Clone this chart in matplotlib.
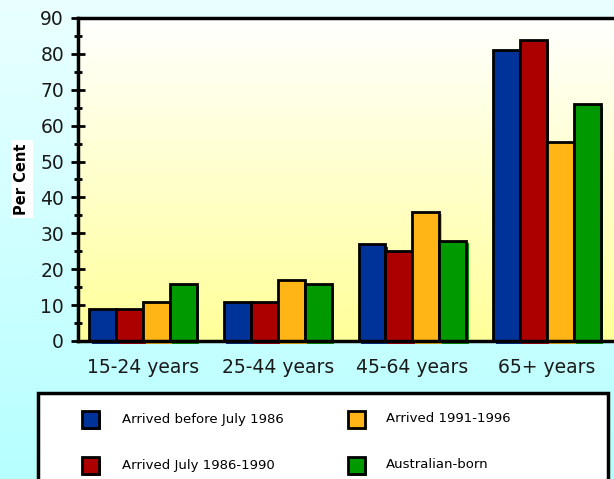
import numpy as np
import matplotlib
matplotlib.use("Agg")
import matplotlib.pyplot as plt
from matplotlib.patches import Rectangle

# data
age_groups = ["15-24 years", "25-44 years", "45-64 years", "65+ years"]
series_names = ["Arrived before July 1986", "Arrived July 1986-1990",
                "Arrived 1991-1996", "Australian-born"]
before_1986 = [9, 11, 27, 81]
from_1986_1990 = [9, 11, 25, 84]
from_1991_1996 = [11, 17, 36, 55.5]
australian_born = [16, 16, 28, 66]
values = [before_1986, from_1986_1990, from_1991_1996, australian_born]
colors = ["#003399", "#aa0000", "#ffb515", "#009900"]

W, H = 614, 479
fig = plt.figure(figsize=(W / 100, H / 100), dpi=100)


def fx(x):  # pixel -> figure fraction
    return x / W


def fy(y):
    return 1 - y / H


# light cyan page background
bg = fig.add_axes([0, 0, 1, 1], zorder=-10)
grad = np.linspace(0, 1, 256).reshape(-1, 1)
bg.imshow(grad, aspect="auto", cmap=matplotlib.colors.LinearSegmentedColormap.from_list(
    "bg", ["#eaffff", "#b6ffff"]), extent=[0, 1, 0, 1], origin="upper")
bg.axis("off")

ax = fig.add_axes([fx(78), fy(341), fx(614 - 78) + 0.002, (341 - 18) / H])
ax.set_facecolor("none")
ax.set_xlim(-0.484, 3.507)
ax.set_ylim(0, 90)
# white -> yellow plot area
ax.imshow(grad, aspect="auto", cmap=matplotlib.colors.LinearSegmentedColormap.from_list(
    "pa", ["#ffffff", "#ffff99"]), extent=[-0.484, 3.507, 0, 90], origin="upper", zorder=0)

x = np.arange(len(age_groups))
w = 0.2
for i, (vals, c) in enumerate(zip(values, colors)):
    pos = x + (i - 1.5) * w
    # small drop shadow
    ax.bar(pos + 0.018, vals, w, bottom=-0.7, color=c, linewidth=0, zorder=2, clip_on=False)
    ax.bar(pos, vals, w, color=c, edgecolor="black", linewidth=2, zorder=3)

for side in ["left", "top", "bottom"]:
    ax.spines[side].set_linewidth(2.5)
ax.spines["right"].set_visible(False)
ax.spines["left"].set_zorder(5)
ax.spines["bottom"].set_zorder(5)

ax.set_yticks(np.arange(0, 91, 10))
ax.set_yticks(np.arange(5, 90, 10), minor=True)
ax.tick_params(axis="y", which="major", direction="inout", length=10, width=2, pad=5,
               labelsize=13.5, labelcolor="#1a1a1a")
ax.tick_params(axis="y", which="minor", direction="inout", length=6, width=2)
ax.set_xticks(x)
ax.set_xticklabels(age_groups)
ax.tick_params(axis="x", length=0, pad=12, labelsize=13.5, labelcolor="#1a1a1a")

fig.text(fx(22), fy(179), "Per Cent", rotation=90, ha="center", va="center",
         fontsize=10.5, fontweight="bold",
         bbox=dict(facecolor="white", edgecolor="none", pad=2.5))

# legend box
fig.add_artist(Rectangle((fx(38), -0.1), fx(570), (H - 393) / H + 0.1,
                         transform=fig.transFigure, facecolor="white",
                         edgecolor="black", linewidth=2.5))
sq = 17
for i, (name, c) in enumerate(zip(series_names, colors)):
    col, row = i // 2, i % 2
    sx = [82, 348][col]
    cy = [419, 465][row]
    fig.add_artist(Rectangle((fx(sx + 2), fy(cy + sq / 2 + 2)), fx(sq), sq / H,
                             transform=fig.transFigure, facecolor=c, edgecolor="none"))
    fig.add_artist(Rectangle((fx(sx), fy(cy + sq / 2)), fx(sq), sq / H,
                             transform=fig.transFigure, facecolor=c,
                             edgecolor="black", linewidth=2))
    fig.text(fx([122, 386][col]), fy(cy), name, ha="left", va="center", fontsize=9.5)

fig.savefig("out.png", dpi=100)
